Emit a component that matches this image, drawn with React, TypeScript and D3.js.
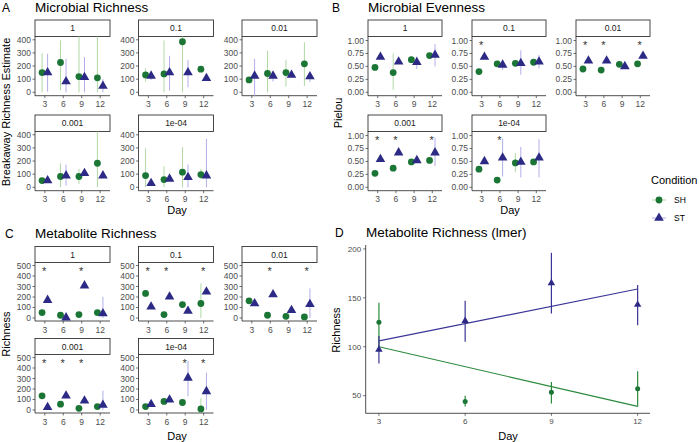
import React from 'react'
import * as d3 from 'd3'

const days = [3, 6, 9, 12]
const dilutions = ['1', '0.1', '0.01', '0.001', '1e-04']

type Err = [number, number] | null

// A: microbial richness (breakaway estimate), one row per dilution, one value per day
const richSH = [[150, 227, 120, 110], [132, 140, 385, 176], [94, 143, 150, 217], [51, 82, 82, 183], [89, 59, 115, 97]]
const richST = [[150, 82, 115, 48], [125, 150, 150, 107], [125, 125, 132, 120], [51, 89, 107, 89], [31, 64, 76, 89]]
const richSHErr: Err[][] = [
  [[0, 298], [15, 395], [0, 430], [0, 430]],
  [[82, 183], [0, 395], [0, 430], null],
  [null, [0, 316], [43, 247], [48, 382]],
  [null, [0, 183], [25, 140], [0, 430]],
  [[0, 298], [0, 160], [0, 306], [60, 140]],
]
const richSTErr: Err[][] = [
  [[5, 293], [0, 255], [0, 268], [0, 100]],
  [[94, 158], [13, 278], [38, 247], null],
  [[-25, 255], [82, 158], null, [79, 150]],
  [null, [13, 173], null, null],
  [null, null, [0, 173], [0, 370]],
]

// B: microbial evenness (Pielou)
const evenSH = [[0.48, 0.38, 0.63, 0.71], [0.40, 0.55, 0.56, 0.58], [0.45, 0.43, 0.54, 0.55], [0.27, 0.37, 0.49, 0.52], [0.35, 0.14, 0.47, 0.49]]
const evenST = [[0.68, 0.59, 0.58, 0.72], [0.68, 0.53, 0.56, 0.59], [0.61, 0.61, 0.50, 0.70], [0.54, 0.67, 0.52, 0.67], [0.50, 0.57, 0.49, 0.57]]
const evenSHErr: Err[][] = [
  [null, [0.05, 0.75], null, null],
  [null, null, null, null],
  [null, null, null, null],
  [null, null, null, null],
  [null, null, [0.29, 0.66], null],
]
const evenSTErr: Err[][] = [
  [null, null, [0.45, 0.69], [0.5, 0.93]],
  [null, [0.43, 0.61], [0.34, 0.81], [0.46, 0.72]],
  [null, null, null, null],
  [null, null, null, [0.41, 0.96]],
  [null, [0.21, 0.94], [0.19, 0.78], [0.19, 0.93]],
]
const evenStars = [[], [3], [3, 6, 12], [3, 6, 12], [6]]

// C: metabolite richness
const metSH = [[51, 26, 32, 51], [234, 32, 128, 138], [163, 26, 16, 10], [135, 55, 16, 32], [32, 81, 71, 10]]
const metST = [[170, 3, 308, 42], [106, 202, 67, 250], [138, 224, 74, 131], [26, 135, 87, 48], [55, 97, 306, 177]]
const metSHErr: Err[][] = [
  [null, null, null, null],
  [null, null, null, [0, 330]],
  [null, null, null, null],
  [null, null, null, null],
  [null, null, null, [0, 113]],
]
const metSTErr: Err[][] = [
  [null, null, null, [0, 202]],
  [null, null, null, null],
  [null, null, null, [0, 282]],
  [null, null, null, [0, 184]],
  [null, null, [129, 468], [0, 355]],
]
const metStars = [[3, 9], [3, 6, 12], [6, 12], [3, 6, 9], [9, 12]]

// D: lmer estimates
const lmerSH = [125, 44, 53.5, 57]
const lmerSHErr: [number, number][] = [[100, 145], [39, 50], [42, 64], [39, 75]]
const lmerST = [97, 126.5, 165, 143]
const lmerSTErr: [number, number][] = [[83, 111], [105, 147], [134, 196], [122, 163]]
const fitDays = [3, 12]
const fitSH = [100, 39]
const fitST = [106, 159]

const FONT = 'Liberation Sans, Arial, Helvetica, sans-serif'
const GREEN = '#1b7535'
const PURPLE = '#2c2a85'
const GREEN_LIGHT = '#b0d9a3'
const PURPLE_LIGHT = '#b2aeea'
const TICK_COL = '#4d4d4d'

const tri = (size: number) => d3.symbol().type(d3.symbolTriangle).size(size)()!

interface GroupProps {
  colX: number[]
  rowY: number[]
  width: number
  stripH: number
  panelH: number
  domain: [number, number]
  ticks: number[]
  fmt: (v: number) => string
  sh: number[][]
  st: number[][]
  shErr: Err[][]
  stErr: Err[][]
  stars?: number[][]
  starY?: number
}

function FacetGroup(p: GroupProps) {
  return (
    <g>
      {dilutions.map((dil, i) => {
        const x0 = p.colX[i % 3]
        const top = p.rowY[Math.floor(i / 3)]
        const pTop = top + p.stripH
        const pBot = pTop + p.panelH
        const x = d3.scaleLinear().domain([1.4, 13.6]).range([x0, x0 + p.width])
        const y = d3.scaleLinear().domain(p.domain).range([pBot, pTop]).clamp(true)
        const dx = 0.45
        return (
          <g key={dil}>
            <rect x={x0} y={top} width={p.width} height={p.stripH} fill="white" stroke="#333" strokeWidth={0.9} />
            <text x={x0 + p.width / 2} y={top + p.stripH / 2 + 3} textAnchor="middle" fontSize={8.5} fill="#1a1a1a">{dil}</text>
            {/* axes */}
            <line x1={x0} x2={x0} y1={pTop} y2={pBot} stroke="#222" strokeWidth={0.8} />
            <line x1={x0} x2={x0 + p.width} y1={pBot} y2={pBot} stroke="#222" strokeWidth={0.8} />
            {p.ticks.map((t) => (
              <g key={t}>
                <line x1={x0 - 2.5} x2={x0} y1={y(t)} y2={y(t)} stroke="#333" strokeWidth={0.7} />
                <text x={x0 - 4} y={y(t) + 3} textAnchor="end" fontSize={8.5} fill={TICK_COL}>{p.fmt(t)}</text>
              </g>
            ))}
            {days.map((d) => (
              <g key={d}>
                <line x1={x(d)} x2={x(d)} y1={pBot} y2={pBot + 2.5} stroke="#333" strokeWidth={0.7} />
                <text x={x(d)} y={pBot + 11.5} textAnchor="middle" fontSize={8.5} fill={TICK_COL}>{d}</text>
              </g>
            ))}
            {/* error bars */}
            {p.shErr[i].map((e, j) => e && (
              <line key={'se' + j} x1={x(days[j] - dx)} x2={x(days[j] - dx)} y1={y(e[0])} y2={y(e[1])} stroke={GREEN_LIGHT} strokeWidth={1} />
            ))}
            {p.stErr[i].map((e, j) => e && (
              <line key={'te' + j} x1={x(days[j] + dx)} x2={x(days[j] + dx)} y1={y(e[0])} y2={y(e[1])} stroke={PURPLE_LIGHT} strokeWidth={1} />
            ))}
            {p.sh[i].map((v, j) => (
              <circle key={'sp' + j} cx={x(days[j] - dx)} cy={y(v)} r={3.4} fill={GREEN} />
            ))}
            {p.st[i].map((v, j) => (
              <path key={'tp' + j} d={tri(40)} transform={`translate(${x(days[j] + dx)},${y(v)})`} fill={PURPLE} />
            ))}
            {p.stars && p.stars[i].map((d) => (
              <text key={'s' + d} x={x(d) - 0.6} y={y(p.starY!) + 5.5} textAnchor="middle" fontSize={11} fill="#333">*</text>
            ))}
          </g>
        )
      })}
    </g>
  )
}

function LmerPanel() {
  const left = 365.7, right = 650, top = 245, bottom = 413.3
  const x = d3.scaleLinear().domain([2.54, 12.43]).range([left, right])
  const y = d3.scaleLinear().domain([32, 204]).range([bottom, top])
  const line = d3.line<number>().x((_, i) => x(fitDays[i])).y((v) => y(v))
  return (
    <g>
      <line x1={left} x2={left} y1={top} y2={bottom} stroke="#222" strokeWidth={0.8} />
      <line x1={left} x2={right} y1={bottom} y2={bottom} stroke="#222" strokeWidth={0.8} />
      {[50, 100, 150, 200].map((t) => (
        <g key={t}>
          <line x1={left - 2.5} x2={left} y1={y(t)} y2={y(t)} stroke="#333" strokeWidth={0.7} />
          <text x={left - 4.5} y={y(t) + 2.8} textAnchor="end" fontSize={8} fill={TICK_COL}>{t}</text>
        </g>
      ))}
      {days.map((d) => (
        <g key={d}>
          <line x1={x(d)} x2={x(d)} y1={bottom} y2={bottom + 2.5} stroke="#333" strokeWidth={0.7} />
          <text x={x(d)} y={bottom + 11} textAnchor="middle" fontSize={8} fill={TICK_COL}>{d}</text>
        </g>
      ))}
      <path d={line(fitSH)!} fill="none" stroke="#2a8a3c" strokeWidth={1.2} />
      <path d={line(fitST)!} fill="none" stroke="#3a3596" strokeWidth={1.2} />
      {lmerSHErr.map((e, j) => (
        <line key={'se' + j} x1={x(days[j])} x2={x(days[j])} y1={y(e[0])} y2={y(e[1])} stroke="#2a8a3c" strokeWidth={1.2} />
      ))}
      {lmerSTErr.map((e, j) => (
        <line key={'te' + j} x1={x(days[j])} x2={x(days[j])} y1={y(e[0])} y2={y(e[1])} stroke="#3a3596" strokeWidth={1.2} />
      ))}
      {lmerSH.map((v, j) => (
        <circle key={'sp' + j} cx={x(days[j])} cy={y(v)} r={2.5} fill={GREEN} />
      ))}
      {lmerST.map((v, j) => (
        <path key={'tp' + j} d={tri(24)} transform={`translate(${x(days[j])},${y(v)})`} fill={PURPLE} />
      ))}
    </g>
  )
}

export default function App() {
  const common = { width: 75, stripH: 16.5, panelH: 59.2 }
  return (
    <svg width={699} height={442} style={{ position: 'absolute', left: 0, top: 0, background: 'white' }} fontFamily={FONT}>
      {/* titles */}
      <text x={2} y={12} fontSize={12}>A</text>
      <text x={35} y={12} fontSize={13.5}>Microbial Richness</text>
      <text x={332} y={12} fontSize={12}>B</text>
      <text x={368} y={12} fontSize={13.5}>Microbial Evenness</text>
      <text x={5} y={238} fontSize={12}>C</text>
      <text x={35} y={238} fontSize={13.5}>Metabolite Richness</text>
      <text x={335} y={237} fontSize={12}>D</text>
      <text x={366} y={237} fontSize={13.5}>Metabolite Richness (lmer)</text>

      <FacetGroup colX={[35, 138.5, 242]} rowY={[20, 115]} {...common} domain={[-26, 425]} ticks={[0, 100, 200, 300, 400]} fmt={(v) => String(v)}
        sh={richSH} st={richST} shErr={richSHErr} stErr={richSTErr} />
      <FacetGroup colX={[368, 472, 576]} rowY={[20, 115]} {...common} width={74} domain={[-0.066, 1.078]} ticks={[0, 0.25, 0.5, 0.75, 1]} fmt={d3.format('.2f')}
        sh={evenSH} st={evenST} shErr={evenSHErr} stErr={evenSTErr} stars={evenStars} starY={0.95} />
      <FacetGroup colX={[35, 138.5, 242]} rowY={[246.5, 338.5]} width={75} stripH={16} panelH={58.5} domain={[-29, 529]} ticks={[0, 100, 200, 300, 400, 500]} fmt={(v) => String(v)}
        sh={metSH} st={metST} shErr={metSHErr} stErr={metSTErr} stars={metStars} starY={465} />
      <LmerPanel />

      {/* axis titles */}
      <text x={177} y={214} textAnchor="middle" fontSize={11}>Day</text>
      <text x={510} y={214} textAnchor="middle" fontSize={11}>Day</text>
      <text x={177} y={440} textAnchor="middle" fontSize={11}>Day</text>
      <text x={508} y={440} textAnchor="middle" fontSize={11}>Day</text>
      <text transform="translate(10,112) rotate(-90)" textAnchor="middle" fontSize={11}>Breakaway Richness Estimate</text>
      <text transform="translate(342,113) rotate(-90)" textAnchor="middle" fontSize={11}>Pielou</text>
      <text transform="translate(10,334) rotate(-90)" textAnchor="middle" fontSize={11}>Richness</text>
      <text transform="translate(340,330) rotate(-90)" textAnchor="middle" fontSize={11}>Richness</text>

      {/* legend */}
      <text x={651} y={184} fontSize={11}>Condition</text>
      <line x1={652} x2={666} y1={200} y2={200} stroke={GREEN_LIGHT} strokeWidth={1} />
      <circle cx={659} cy={200} r={3.4} fill={GREEN} />
      <text x={674} y={203} fontSize={8.5}>SH</text>
      <line x1={652} x2={666} y1={218} y2={218} stroke={PURPLE_LIGHT} strokeWidth={1} />
      <path d={tri(40)} transform="translate(659,218)" fill={PURPLE} />
      <text x={674} y={221} fontSize={8.5}>ST</text>
    </svg>
  )
}
